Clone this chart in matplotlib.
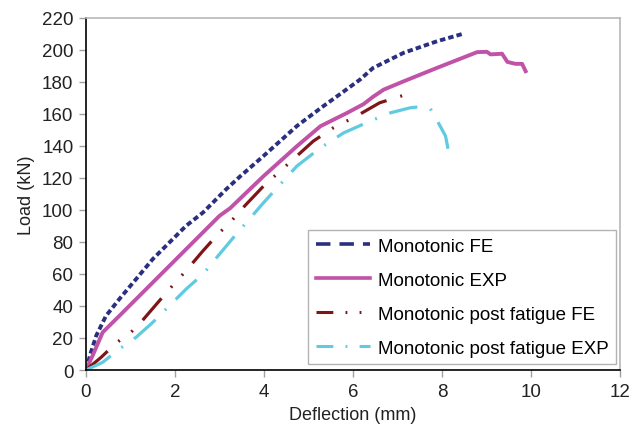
import numpy as np
import matplotlib
matplotlib.use("Agg")
import matplotlib.pyplot as plt
from matplotlib.lines import Line2D

plt.rcParams['font.family'] = ['Liberation Sans', 'DejaVu Sans']

# Monotonic FE
fe_x = [0, 0.1, 0.23, 0.45, 0.75, 1.125, 1.5, 1.875, 2.25, 2.63, 3.15, 3.47, 3.99,
        4.74, 5.3, 5.7, 6.16, 6.45, 7.14, 7.89, 8.49]
fe_y = [0, 10, 21.4, 33.8, 44.3, 56.7, 69.2, 79.6, 90, 98.3, 112.8, 121, 133.6,
        152.3, 164, 172, 181.3, 188.5, 198, 205.2, 210]

# Monotonic EXP
exp_x = [0, 0.15, 0.375, 0.75, 1.5, 2.25, 3.0, 3.24, 3.99, 4.74, 5.27, 5.87, 6.24,
         6.45, 6.69, 7.14, 7.89, 8.79, 9.01, 9.09, 9.35, 9.47, 9.65, 9.8, 9.88]
exp_y = [0, 9, 23.5, 33.8, 54.6, 75.4, 96.2, 101, 121, 139.7, 152.2, 160.5, 166,
         170.5, 175, 180.2, 188.6, 198.4, 198.6, 197, 197.4, 192.3, 191.1, 191.1, 186.5]

# Monotonic post fatigue FE
pf_fe_x = [0, 0.34, 0.675, 1.01, 1.2, 1.875, 2.25, 2.63, 3.0, 3.24, 3.45, 3.99,
           4.74, 5.11, 5.56, 6.08, 6.6, 7.2]
pf_fe_y = [0, 7.9, 16.8, 23.5, 28.7, 50.5, 62, 74.4, 85.8, 92, 99, 114.8,
           133.6, 142.9, 151.2, 158.5, 166.8, 172]

# Monotonic post fatigue EXP
pf_exp_x = [0, 0.375, 0.75, 1.125, 1.5, 1.95, 2.25, 2.63, 3.0, 3.375, 3.99, 4.74,
            5.27, 5.79, 6.39, 6.84, 7.29, 7.51, 7.74, 7.96, 8.08, 8.19]
pf_exp_y = [0, 4.8, 13.1, 20.4, 29.7, 42.2, 50.5, 59.8, 72.3, 84.7, 104.4, 127.3,
            138.7, 148, 155.4, 160.5, 163.7, 164.3, 163.1, 152.2, 146, 130.4]

labels = ['Monotonic FE', 'Monotonic EXP', 'Monotonic post fatigue FE',
          'Monotonic post fatigue EXP']
colors = ['#2B2F80', '#C052A8', '#7F1518', '#5FCBE0']

fig, ax = plt.subplots(figsize=(6.44, 4.31), dpi=100)
fig.subplots_adjust(left=0.1335, right=0.9627, top=0.957, bottom=0.1392)

ax.plot(fe_x, fe_y, color=colors[0], lw=2.8, dashes=(1.4, 0.8))
ax.plot(exp_x, exp_y, color=colors[1], lw=2.8)
ax.plot(pf_fe_x, pf_fe_y, color=colors[2], lw=2.3, dashes=(9, 4.5, 0.6, 4.5, 0.6, 4.5))
ax.plot(pf_exp_x, pf_exp_y, color=colors[3], lw=2.3, dashes=(9, 4.2, 0.6, 4.2))

handles = [
    Line2D([], [], color=colors[0], lw=2.6, dashes=(4, 2.5)),
    Line2D([], [], color=colors[1], lw=2.6),
    Line2D([], [], color=colors[2], lw=2.2, dashes=(5.5, 4, 0.6, 4, 0.6, 4)),
    Line2D([], [], color=colors[3], lw=2.2, dashes=(5.5, 4, 0.6, 4)),
]
leg = ax.legend(handles, labels, loc='lower right', fontsize=13.5, frameon=True,
                fancybox=False, edgecolor='#A0A0A0', handlelength=2.9,
                handletextpad=0.4, labelspacing=0.9, borderpad=0.4,
                borderaxespad=0, bbox_to_anchor=(0.9925, 0.017))
leg.get_frame().set_linewidth(1.0)

ax.set_xlim(0, 12)
ax.set_ylim(0, 220)
ax.set_xticks(np.arange(0, 13, 2))
ax.set_yticks(np.arange(0, 221, 20))
ax.tick_params(labelsize=13.5, length=5, width=1, color='#A0A0A0',
               labelcolor='#222222', pad=4)
ax.set_xlabel('Deflection (mm)', fontsize=13, color='#222222', labelpad=5)
ax.set_ylabel('Load (kN)', fontsize=13, color='#222222', labelpad=5)

for s in ['top', 'right']:
    ax.spines[s].set_color('#B8B8B8')
    ax.spines[s].set_linewidth(1.2)
for s in ['left', 'bottom']:
    ax.spines[s].set_color('black')
    ax.spines[s].set_linewidth(1.2)

fig.savefig('out.png', dpi=100)
